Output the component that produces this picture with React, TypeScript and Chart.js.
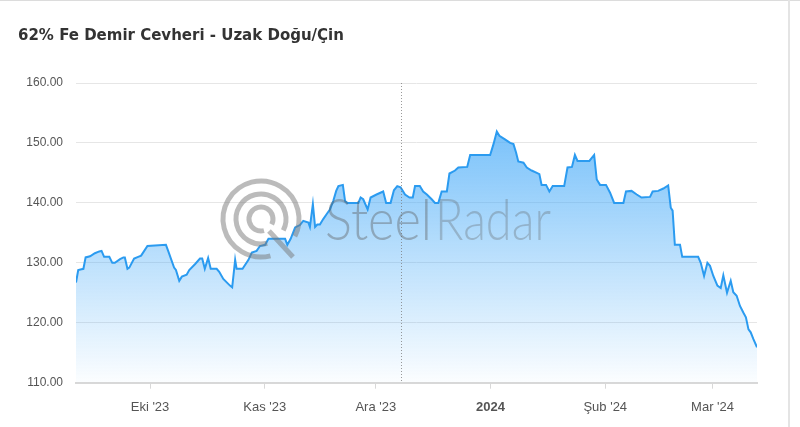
import React, { useEffect, useRef } from "react";
import { Chart, registerables } from "chart.js";

Chart.register(...registerables);

const chartTitle = "62% Fe Demir Cevheri - Uzak Doğu/Çin";

// day index counted from 11 Sep 2023
const dayIdx = [
  0, 0.6, 2.0, 2.6, 3.8, 5.1, 6.3, 6.9, 7.6, 9.0, 9.8, 10.5, 11.9, 12.8, 13.2, 13.9, 14.4, 15.7, 16.8, 17.6,
  19.3, 24.3, 24.9, 26.5, 27.0, 27.9, 28.6, 29.9, 30.6, 32.2, 33.5, 34.1, 34.8, 35.7, 36.4, 38.0, 38.7, 39.8,
  41.6, 42.2, 43.0, 43.4, 45.0, 46.6, 47.5, 48.8, 49.7, 51.1, 52.0, 56.5, 57.1, 58.0, 59.2, 60.5, 61.4, 62.8,
  63.2, 64.0, 64.6, 65.2, 65.9, 66.8, 67.7, 68.6, 69.5, 70.3, 70.9, 72.1, 72.7, 73.3, 76.3, 76.9, 77.6, 78.8,
  79.6, 81.2, 83.0, 83.8, 85.0, 85.9, 86.8, 87.7, 88.9, 90.1, 91.0, 91.6, 92.9, 93.8, 94.8, 96.1, 97.0, 97.9,
  98.8, 100.2, 100.9, 102.4, 103.3, 105.7, 106.5, 111.9, 112.8, 113.7, 114.4, 115.9, 117.3, 118.2, 118.9,
  119.5, 120.9, 121.8, 123.1, 124.5, 125.2, 125.8, 127.0, 127.9, 128.8, 131.9, 132.8, 134.0, 134.8, 135.5,
  138.7, 140.0, 140.7, 141.6, 143.2, 144.3, 145.4, 147.9, 148.6, 150.1, 151.5, 152.8, 155.1, 155.8, 157.3,
  158.7, 160.0, 160.7, 161.2, 161.8, 163.2, 163.8, 168.1, 168.8, 169.7, 170.6, 171.3, 172.2, 173.3, 174.2,
  174.9, 175.9, 176.9, 177.6, 178.5, 179.4, 180.3, 181.0, 181.7, 182.3, 183.0, 184.0,
];

const prices = [
  126.7, 128.8, 129.0, 130.9, 131.1, 131.6, 131.9, 132.0, 131.0, 131.0, 130.0, 130.0, 130.6, 130.9, 130.9, 129.0, 129.2, 130.7, 131.0, 131.2,
  132.8, 133.0, 132.0, 129.2, 128.8, 127.0, 127.7, 128.0, 128.8, 129.8, 130.7, 130.7, 129.0, 130.8, 129.0, 129.0, 128.5, 127.3,
  126.2, 125.9, 130.5, 129.0, 129.0, 130.5, 131.7, 132.0, 132.8, 133.0, 134.0, 134.0, 133.0, 134.0, 135.9, 136.3, 137.0, 136.7,
  136.0, 139.8, 136.0, 136.4, 136.4, 137.3, 138.1, 138.9, 140.3, 142.0, 142.8, 143.0, 140.3, 140.0, 140.0, 140.9, 140.6, 138.9,
  140.9, 141.4, 141.9, 140.0, 140.0, 142.1, 142.8, 142.6, 141.4, 140.9, 140.9, 142.8, 142.8, 141.9, 141.4, 140.6, 140.0, 140.0,
  141.9, 141.9, 144.9, 145.4, 145.9, 146.0, 148.0, 148.0, 149.8, 151.9, 151.2, 150.6, 150.0, 149.8, 148.4,
  146.9, 146.7, 145.9, 145.4, 145.0, 144.8, 143.0, 143.0, 141.9, 142.8, 142.8, 145.9, 146.0, 148.0, 147.0,
  147.0, 148.0, 143.9, 143.0, 143.0, 141.7, 140.0, 140.0, 141.9, 142.0, 141.4, 140.9, 141.0, 141.9, 142.0,
  142.4, 142.9, 139.2, 138.7, 133.0, 133.0, 131.0, 131.0, 130.0, 127.8, 130.0, 129.5, 127.8, 126.2, 125.8,
  127.9, 125.0, 127.0, 125.1, 124.5, 122.8, 121.7, 120.9, 118.9, 118.4, 117.3, 115.9,
];

const tickDays = [20, 51, 81, 112, 143, 172];
const tickLabels = ["Eki '23", "Kas '23", "Ara '23", "2024", "Şub '24", "Mar '24"];
const yTicks = [110, 120, 130, 140, 150, 160];
const crosshairDay = 87.8;

const FONT = "'Liberation Sans', Arial, sans-serif";

const overlayPlugin = {
  id: "overlay",
  afterDatasetsDraw(chart: any) {
    const { ctx, chartArea, scales } = chart;
    // crosshair
    const cx = Math.round(scales.x.getPixelForValue(crosshairDay)) + 0.5;
    ctx.save();
    ctx.strokeStyle = "rgba(120,120,120,0.75)";
    ctx.lineWidth = 1;
    ctx.setLineDash([1, 2]);
    ctx.beginPath();
    ctx.moveTo(cx, chartArea.top);
    ctx.lineTo(cx, chartArea.bottom);
    ctx.stroke();
    ctx.restore();

    // watermark logo
    ctx.save();
    const ix = 261, iy = 219;
    ctx.strokeStyle = "rgba(120,120,120,0.5)";
    ctx.lineWidth = 5;
    ctx.lineCap = "butt";
    const gapStart = 0.15 * Math.PI, gapEnd = 0.42 * Math.PI;
    [38, 25, 12].forEach((r) => {
      ctx.beginPath();
      ctx.arc(ix, iy, r, gapEnd, gapStart + 2 * Math.PI);
      ctx.stroke();
    });
    ctx.beginPath();
    ctx.moveTo(ix + 8, iy + 12);
    ctx.lineTo(ix + 32, iy + 38);
    ctx.stroke();

    ctx.textBaseline = "alphabetic";
    ctx.font = "300 58px Lato, 'Open Sans', sans-serif";
    const drawFit = (txt: string, x: number, w: number, color: string) => {
      const mw = ctx.measureText(txt).width;
      ctx.save();
      ctx.translate(x, 240);
      ctx.scale(w / mw, 1);
      ctx.fillStyle = color;
      ctx.fillText(txt, 0, 0);
      ctx.restore();
    };
    drawFit("Steel", 325, 107, "rgba(90,90,90,0.4)");
    drawFit("Radar", 435, 116, "rgba(90,90,90,0.3)");
    ctx.restore();
  },
};

export default function App() {
  const ref = useRef<HTMLCanvasElement | null>(null);

  useEffect(() => {
    if (!ref.current) return;
    const points = dayIdx.map((d, i) => ({ x: d, y: prices[i] }));
    const chart = new Chart(ref.current, {
      type: "line",
      data: {
        datasets: [
          {
            data: points,
            borderColor: "#2b9bf0",
            borderWidth: 2,
            pointRadius: 0,
            tension: 0,
            fill: "start",
            backgroundColor: (c: any) => {
              const { chart } = c;
              const area = chart.chartArea;
              if (!area) return "rgba(60,165,245,0.4)";
              const g = chart.ctx.createLinearGradient(0, area.top, 0, area.bottom);
              g.addColorStop(0, "rgba(70,170,248,0.85)");
              g.addColorStop(1, "rgba(70,170,248,0.02)");
              return g;
            },
          },
        ],
      },
      options: {
        responsive: true,
        maintainAspectRatio: false,
        animation: false,
        layout: { padding: { left: 18, right: 43, top: 0, bottom: 0 } },
        plugins: {
          legend: { display: false },
          tooltip: { enabled: false },
          title: {
            display: true,
            text: chartTitle,
            align: "start",
            color: "#333333",
            font: { family: "'DejaVu Sans', Verdana, sans-serif", size: 15, weight: "bold" },
            padding: { top: 27, bottom: 38 },
          },
        },
        scales: {
          x: {
            type: "linear",
            min: 0,
            max: 184,
            afterBuildTicks: (s: any) => {
              s.ticks = tickDays.map((v) => ({ value: v }));
            },
            ticks: {
              autoSkip: false,
              maxRotation: 0,
              padding: 12,
              color: "#555555",
              font: (c: any) => ({
                family: FONT,
                size: 13,
                lineHeight: 1.1,
                weight: c.tick && c.tick.value === 112 ? "bold" : "normal",
              }),
              callback: (v: any) => {
                const i = tickDays.indexOf(Number(v));
                return i >= 0 ? tickLabels[i] : "";
              },
            },
            grid: {
              drawOnChartArea: false,
              drawTicks: true,
              tickLength: 6,
              color: "#d8d8d8",
            },
            border: { display: true, color: "#d8d8d8", width: 2 },
          },
          y: {
            min: 110,
            max: 160,
            afterBuildTicks: (s: any) => {
              s.ticks = yTicks.map((v) => ({ value: v }));
            },
            afterFit: (s: any) => {
              s.width = 58;
            },
            ticks: {
              padding: 13,
              color: "#555555",
              font: { family: FONT, size: 12 },
              callback: (v: any) => Number(v).toFixed(2),
            },
            grid: { color: "#e6e6e6", drawTicks: false, lineWidth: 1 },
            border: { display: false },
          },
        },
      },
      plugins: [overlayPlugin],
    });
    return () => chart.destroy();
  }, []);

  return (
    <div style={{ position: "absolute", left: 0, top: 0, width: 800, height: 427, background: "#fff" }}>
      <div style={{ position: "absolute", left: 0, top: 0, width: 800, height: 1, background: "#dcdcdc" }} />
      <div style={{ position: "absolute", left: 788, top: 0, width: 2, height: 427, background: "#e4e4e4" }} />
      <div style={{ position: "absolute", left: 0, top: 0, width: 800, height: 427 }}>
        <canvas ref={ref} />
      </div>
    </div>
  );
}
